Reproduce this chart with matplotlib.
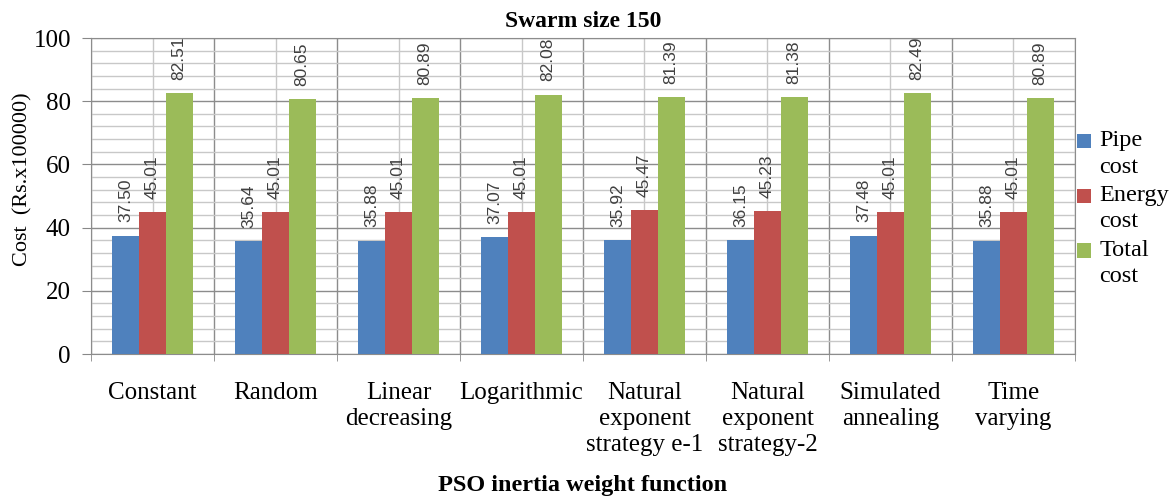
import numpy as np
import matplotlib.pyplot as plt
from matplotlib.patches import Rectangle
from matplotlib.container import BarContainer
from matplotlib.legend_handler import HandlerPatch

categories = ["Constant", "Random", "Linear\ndecreasing", "Logarithmic",
              "Natural\nexponent\nstrategy e-1", "Natural\nexponent\nstrategy-2",
              "Simulated\nannealing", "Time\nvarying"]
pipe_cost = [37.50, 35.64, 35.88, 37.07, 35.92, 36.15, 37.48, 35.88]
energy_cost = [45.01, 45.01, 45.01, 45.01, 45.47, 45.23, 45.01, 45.01]
total_cost = [82.51, 80.65, 80.89, 82.08, 81.39, 81.38, 82.49, 80.89]

serif = ["Liberation Serif", "DejaVu Serif"]
plt.rcParams['font.family'] = serif


# legend square sits on the first line of a two-line label
class TopSquare(HandlerPatch):
    def create_artists(self, legend, orig_handle, xdescent, ydescent,
                       width, height, fontsize, trans):
        col = orig_handle.patches[0].get_facecolor()
        p = Rectangle((-xdescent, -ydescent + fontsize * 0.5), width, height,
                      facecolor=col, transform=trans)
        return [p]


fig = plt.figure(figsize=(11.76, 5.04), dpi=100)
ax = fig.add_axes([0.0774, 0.2976, 0.8367, 0.627])

x = np.arange(len(categories))
w = 0.217
series = [(pipe_cost, '#4F81BD', 'Pipe\ncost'),
          (energy_cost, '#C0504D', 'Energy\ncost'),
          (total_cost, '#9BBB59', 'Total\ncost')]
for i, (vals, col, lab) in enumerate(series):
    pos = x + (i - 1) * w
    ax.bar(pos, vals, w, color=col, label=lab, zorder=3)
    for p, v in zip(pos, vals):
        ax.annotate(f"{v:.2f}", (p, v), xytext=(0, 9.5), textcoords='offset points',
                    rotation=90, ha='center', va='bottom', fontsize=12.5,
                    family='Liberation Sans', color='#404040', zorder=4)

ax.set_xlim(-0.5, len(categories) - 0.5)
ax.set_ylim(0, 100)
ax.set_yticks(range(0, 101, 20))
ax.set_yticks(range(0, 101, 4), minor=True)
ax.set_xticks(x)
ax.set_xticks(np.arange(-0.5, len(categories)), minor=True)
ax.set_xticklabels(categories, fontsize=18, linespacing=1.25)
ax.tick_params(axis='x', which='major', length=0, pad=20)
ax.tick_params(axis='x', which='minor', length=5, color='#888888')
ax.tick_params(axis='y', which='major', labelsize=18, length=6.5, pad=8, color='#888888')
ax.tick_params(axis='y', which='minor', length=0)

ax.grid(True, which='major', axis='y', color='#8c8c8c', linewidth=1, zorder=0)
ax.grid(True, which='minor', axis='y', color='#c8c8c8', linewidth=1, zorder=0)
ax.grid(True, which='minor', axis='x', color='#8c8c8c', linewidth=1, zorder=0)
ax.grid(True, which='major', axis='x', color='#c8c8c8', linewidth=1, zorder=0)
ax.set_axisbelow(True)
for s in ax.spines.values():
    s.set_color('#8c8c8c')

ax.set_title("Swarm size 150", fontsize=17, fontweight='bold', pad=8)
fig.text(23 / 1176, 1 - 179 / 504, "Cost  (Rs.x100000)", rotation=90,
         ha='center', va='center', fontsize=16)
fig.text(0.0774 + 0.8367 / 2, 1 - 485 / 504, "PSO inertia weight function",
         ha='center', va='center', fontsize=17.5, fontweight='bold')

leg = ax.legend(loc='center left', bbox_to_anchor=(1.0, 0.46), frameon=False, fontsize=17.5,
                handlelength=0.55, handleheight=0.55, handletextpad=0.35, labelspacing=0.3,
                borderaxespad=0.0, borderpad=0.1,
                handler_map={BarContainer: TopSquare()})
for t in leg.get_texts():
    t.set_linespacing(1.35)

fig.savefig("out.png", dpi=100)
